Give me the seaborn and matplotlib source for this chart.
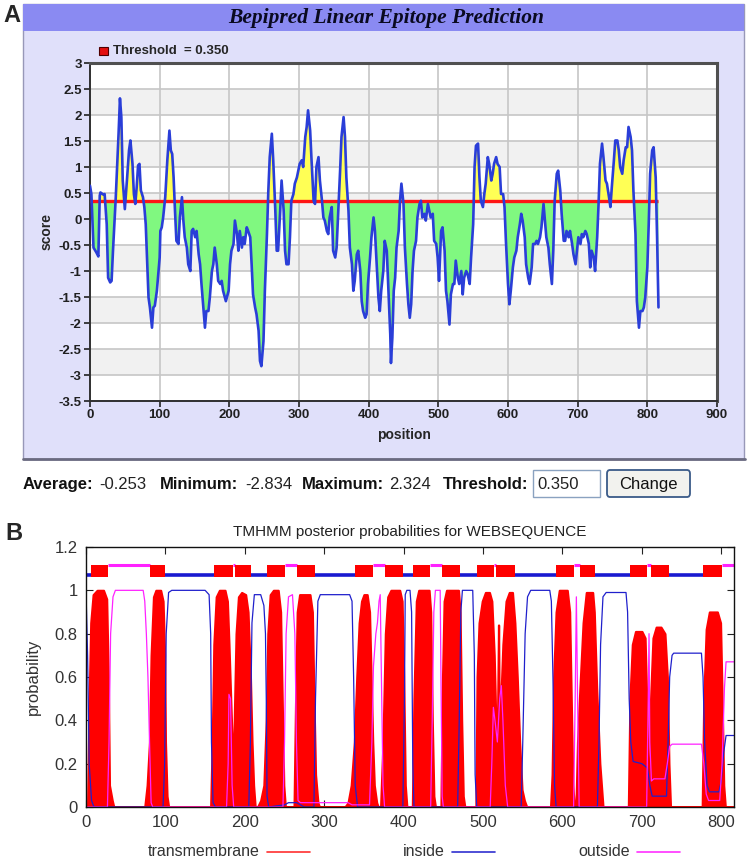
import numpy as np
import seaborn as sns
import matplotlib.pyplot as plt
from matplotlib.patches import Rectangle, FancyBboxPatch
from matplotlib.lines import Line2D

# ---- panel A: Bepipred linear epitope prediction ----
bp_pos = [0, 2, 5, 9, 12, 14, 15, 19, 21, 24,
          26, 29, 31, 33, 37, 41, 43, 45, 47, 50,
          53, 56, 58, 61, 63, 65, 67, 69, 71, 73,
          76, 78, 80, 84, 86, 89, 91, 93, 96, 100,
          101, 103, 105, 108, 111, 114, 116, 118, 120, 122,
          124, 127, 129, 132, 134, 136, 139, 141, 144, 146,
          148, 151, 153, 156, 158, 160, 163, 165, 167, 170,
          172, 175, 177, 179, 182, 184, 187, 189, 191, 195,
          199, 201, 203, 206, 208, 211, 213, 215, 218, 220,
          222, 225, 227, 230, 232, 234, 237, 239, 242, 244,
          246, 249, 251, 254, 256, 258, 261, 263, 266, 268,
          270, 273, 275, 278, 280, 282, 285, 287, 289, 292,
          294, 297, 299, 301, 304, 306, 309, 311, 313, 316,
          318, 321, 323, 325, 328, 330, 333, 335, 337, 340,
          342, 344, 347, 349, 352, 354, 356, 359, 361, 364,
          366, 368, 371, 373, 376, 378, 380, 383, 385, 388,
          390, 392, 395, 397, 399, 402, 404, 407, 409, 411,
          414, 416, 418, 421, 423, 426, 428, 431, 432, 434,
          436, 438, 440, 443, 445, 447, 450, 452, 455, 457,
          459, 461, 463, 465, 468, 470, 473, 475, 477, 480,
          482, 485, 487, 489, 492, 494, 497, 499, 501, 504,
          506, 509, 511, 513, 516, 518, 521, 523, 525, 528,
          530, 533, 535, 537, 540, 542, 545, 547, 550, 552,
          554, 557, 559, 561, 564, 566, 568, 571, 573, 576,
          578, 580, 583, 585, 588, 590, 593, 595, 597, 600,
          602, 604, 607, 609, 612, 614, 617, 619, 621, 624,
          626, 629, 631, 634, 636, 639, 641, 643, 646, 648,
          651, 653, 655, 658, 660, 663, 665, 667, 670, 672,
          675, 677, 680, 682, 684, 687, 689, 692, 694, 697,
          699, 701, 704, 706, 708, 711, 713, 716, 718, 720,
          723, 725, 728, 730, 732, 735, 737, 740, 742, 745,
          747, 749, 752, 754, 757, 759, 761, 764, 766, 769,
          771, 773, 776, 778, 780, 783, 785, 788, 790, 793,
          795, 797, 800, 802, 804, 807, 809, 812, 814, 816]
bp_score = [0.64, 0.48, -0.55, -0.64, -0.72, 0.45, 0.51, 0.47, 0.48, -0.10,
            -1.13, -1.22, -1.19, -0.61, 0.42, 1.64, 2.32, 1.96, 0.74, 0.19,
            0.74, 1.32, 1.51, 1.06, 0.48, 0.29, 0.61, 1.03, 1.06, 0.55,
            0.42, 0.23, -0.10, -1.51, -1.70, -2.09, -1.70, -1.67, -1.38, -0.74,
            -0.23, -0.16, 0.03, 0.42, 1.13, 1.70, 1.32, 1.25, 0.80, 0.16,
            -0.42, -0.48, 0.03, 0.42, -0.03, -0.35, -0.55, -0.87, -1.00, -0.23,
            -0.19, -0.35, -0.23, -0.68, -0.87, -1.25, -1.77, -2.09, -1.77, -1.77,
            -1.51, -1.00, -0.87, -0.55, -0.87, -1.19, -1.25, -1.19, -1.38, -1.58,
            -1.38, -0.87, -0.61, -0.48, -0.03, -0.29, -0.61, -0.23, -0.55, -0.35,
            -0.48, -0.16, -0.23, -0.35, -0.87, -1.45, -1.70, -1.83, -2.15, -2.73,
            -2.83, -2.35, -1.38, -0.29, 0.55, 1.19, 1.64, 1.13, 0.16, -0.61,
            -0.61, 0.16, 0.74, 0.16, -0.61, -0.87, -0.87, -0.35, 0.35, 0.48,
            0.68, 0.80, 0.93, 1.06, 1.13, 1.00, 1.58, 1.77, 2.09, 1.70,
            1.13, 0.35, 0.29, 1.00, 1.19, 0.74, 0.35, 0.03, -0.03, -0.23,
            -0.29, 0.03, 0.23, -0.61, -0.74, -0.55, 0.03, 0.93, 1.58, 1.96,
            1.58, 0.80, 0.16, -0.55, -0.87, -1.38, -1.19, -0.68, -0.61, -1.00,
            -1.58, -1.77, -1.90, -1.83, -1.25, -0.74, -0.35, 0.03, -0.23, -0.74,
            -1.51, -1.77, -1.38, -1.00, -0.42, -0.61, -1.25, -2.22, -2.77, -2.28,
            -1.38, -1.13, -0.55, -0.23, 0.35, 0.68, 0.29, -0.55, -1.25, -1.64,
            -1.90, -1.64, -1.00, -0.61, -0.42, 0.03, 0.29, 0.35, 0.03, 0.10,
            -0.03, 0.29, 0.16, 0.03, 0.10, -0.42, -0.48, -0.74, -1.19, -0.23,
            -0.16, -0.61, -1.38, -1.58, -2.03, -1.45, -1.25, -1.25, -0.80, -1.13,
            -1.25, -1.00, -1.45, -1.13, -1.00, -1.06, -1.25, -0.74, -0.10, 1.00,
            1.41, 1.45, 0.80, 0.35, 0.23, 0.48, 0.68, 1.19, 1.06, 0.74,
            0.87, 1.06, 1.19, 1.06, 1.00, 0.48, 0.48, 0.23, -0.42, -1.25,
            -1.64, -1.38, -0.93, -0.74, -0.61, -0.35, -0.10, 0.10, -0.03, -0.35,
            -0.87, -1.13, -1.25, -0.93, -0.48, -0.48, -0.42, -0.48, -0.35, -0.16,
            0.29, -0.03, -0.35, -0.55, -0.87, -1.25, -0.61, 0.35, 0.87, 0.93,
            0.55, 0.10, -0.42, -0.42, -0.23, -0.35, -0.23, -0.48, -0.68, -0.87,
            -0.61, -0.35, -0.48, -0.29, -0.35, -0.23, -0.29, -0.48, -0.93, -0.61,
            -0.74, -1.00, -0.35, 0.29, 1.06, 1.45, 1.19, 0.74, 0.68, 0.42,
            0.23, 0.61, 1.13, 1.51, 1.51, 1.32, 1.00, 0.87, 1.13, 1.38,
            1.38, 1.77, 1.58, 1.32, 0.55, -0.29, -1.58, -2.09, -1.77, -1.77,
            -1.70, -1.51, -0.93, -0.10, 0.87, 1.32, 1.38, 0.80, -0.35, -1.70]
threshold = 0.350
stat_names = ["Average:", "Minimum:", "Maximum:"]
stat_values = ["-0.253", "-2.834", "2.324"]

# ---- panel B: TMHMM posterior probabilities ----
tm_pos = [0, 2, 4, 6, 9, 14, 22, 26, 28, 29.5, 33, 35,
          74, 77, 80, 82, 85, 88, 94, 97, 99, 100, 102, 104,
          157, 159, 161, 164, 168, 175, 178, 180, 182, 184,
          185.5, 187, 189, 192, 196, 201, 204, 207, 209, 211, 213,
          216, 220, 224, 227, 229, 232, 236, 242, 245, 247, 249, 251,
          262, 264, 266, 269, 282, 285, 287, 289, 292, 294,
          326, 330, 334, 338, 341, 344, 347, 350, 354, 357, 359, 361, 363, 366, 368,
          371, 374, 377, 380, 384, 395, 398, 400, 402, 404,
          411, 413, 416, 419, 432, 434, 436, 438, 440,
          447, 449, 451, 454, 469, 471, 473, 475, 477,
          491, 492.5, 495, 499, 503, 508, 511, 514, 516, 518,
          519.5, 520.5, 522, 525, 529, 533, 537, 540, 543, 546, 549, 552, 555,
          585, 587, 589, 592, 596, 606, 609, 611, 613, 615,
          617, 619, 622, 626, 630, 638, 640, 643, 647, 651,
          683, 685, 688, 692, 700, 704, 706, 708, 709.5,
          711, 714, 718, 724, 729, 732, 734, 736,
          776, 778, 781, 785, 795, 799, 801, 803, 805, 816]
tm_prob = [0, 0, 0.5, 0.85, 0.98, 1.0, 1.0, 0.96, 0.6, 0.1, 0.03, 0,
           0, 0.1, 0.3, 0.7, 0.97, 1.0, 1.0, 0.95, 0.7, 0.3, 0.05, 0,
           0, 0.3, 0.75, 0.97, 1.0, 1.0, 0.95, 0.75, 0.52, 0.3,
           0.15, 0.45, 0.8, 0.97, 0.99, 0.98, 0.9, 0.6, 0.3, 0.1, 0,
           0, 0.03, 0.1, 0.4, 0.8, 0.98, 1.0, 1.0, 0.9, 0.5, 0.1, 0,
           0, 0.5, 0.9, 0.98, 0.98, 0.9, 0.5, 0.15, 0.02, 0,
           0, 0.02, 0.1, 0.3, 0.6, 0.85, 0.95, 0.98, 0.98, 0.9, 0.6, 0.3, 0.1, 0.02, 0,
           0, 0.3, 0.8, 0.97, 1.0, 1.0, 0.95, 0.6, 0.1, 0,
           0, 0.5, 0.95, 1.0, 1.0, 0.9, 0.4, 0.05, 0,
           0, 0.6, 0.95, 1.0, 1.0, 0.9, 0.4, 0.05, 0,
           0, 0.6, 0.85, 0.95, 0.99, 0.99, 0.95, 0.7, 0.4, 0.3,
           0.84, 0.3, 0.45, 0.75, 0.95, 0.99, 0.99, 0.85, 0.6, 0.3, 0.08, 0.03, 0,
           0, 0.15, 0.6, 0.9, 1.0, 1.0, 0.9, 0.5, 0.1, 0,
           0, 0.3, 0.55, 0.85, 0.99, 0.99, 0.9, 0.55, 0.2, 0,
           0, 0.5, 0.75, 0.81, 0.81, 0.78, 0.5, 0.1, 0.02,
           0.5, 0.78, 0.83, 0.83, 0.8, 0.6, 0.2, 0,
           0, 0.5, 0.82, 0.9, 0.9, 0.85, 0.5, 0.1, 0, 0]

ins_pos = [0, 2, 4, 7, 10, 97, 99, 101, 104, 108, 150, 155, 157, 158, 160, 163,
           205, 207, 209, 212, 220, 224, 226, 227, 228, 230, 250, 255, 265, 270, 275,
           287, 289, 292, 295, 332, 335, 337, 339, 342,
           399, 401, 402, 404, 408, 410, 411.5, 413,
           468, 470, 472, 474, 487, 489, 490, 492,
           548, 550, 553, 556, 560, 584, 586, 588, 590, 592,
           644, 646, 648, 651, 655, 680, 682, 684, 686, 689, 700, 707, 710, 713, 731,
           733, 735, 738, 740, 775, 777, 779, 782, 785, 797, 800, 803, 806, 816]
ins_prob = [1.0, 0.7, 0.2, 0.03, 0, 0, 0.2, 0.8, 0.99, 1.0, 1.0, 0.98, 0.8, 0.3, 0.02, 0,
            0, 0.3, 0.85, 0.98, 0.98, 0.93, 0.8, 0.5, 0.05, 0, 0.01, 0.02, 0.02, 0.01, 0,
            0, 0.5, 0.95, 0.98, 0.98, 0.95, 0.6, 0.1, 0,
            0, 0.5, 0.98, 1.0, 1.0, 0.9, 0.2, 0,
            0, 0.4, 0.9, 1.0, 1.0, 0.7, 0.15, 0,
            0, 0.3, 0.8, 0.97, 1.0, 1.0, 0.95, 0.6, 0.1, 0,
            0, 0.3, 0.75, 0.97, 0.99, 0.99, 0.9, 0.5, 0.3, 0.21, 0.2, 0.18, 0.1, 0.05, 0.05,
            0.3, 0.6, 0.7, 0.71, 0.71, 0.6, 0.3, 0.1, 0.07, 0.07, 0.12, 0.25, 0.33, 0.33]

out_pos = [0, 27, 29, 31, 34, 37, 72, 74, 76, 78, 80, 82, 84,
           177, 179, 180, 182, 184, 186,
           248, 250, 252, 255, 260, 263, 265, 267, 270, 330, 335, 357,
           360, 362, 365, 367, 369, 370.5, 372, 374, 376,
           434, 436, 438, 440, 446, 447, 448.5, 450,
           509, 511, 513, 515, 518, 521, 523, 525, 528, 531,
           614, 616, 617.5, 619, 621,
           706, 708, 709, 710, 712, 715, 729, 732, 735, 738, 775, 778, 781, 784, 798, 801, 804, 806, 816]
out_prob = [0, 0, 0.3, 0.8, 0.97, 1.0, 1.0, 0.95, 0.8, 0.6, 0.3, 0.02, 0,
            0, 0.2, 0.52, 0.5, 0.1, 0,
            0, 0.3, 0.8, 0.97, 0.98, 0.8, 0.3, 0.03, 0.02, 0.02, 0.01, 0.01,
            0.3, 0.65, 0.8, 0.85, 0.95, 0.98, 0.6, 0.1, 0,
            0, 0.4, 0.9, 1.0, 1.0, 0.6, 0.05, 0,
            0, 0.2, 0.46, 0.4, 0.3, 0.5, 0.56, 0.4, 0.1, 0,
            0, 0.5, 0.97, 0.5, 0,
            0, 0.5, 0.8, 0.3, 0.12, 0.13, 0.13, 0.2, 0.28, 0.29, 0.29, 0.2, 0.06, 0.03, 0.03, 0.2, 0.55, 0.67, 0.67]

# predicted topology (bar on top)
helix_start = [6, 81, 161, 187, 228, 266, 339, 376, 412, 448, 492, 516.5, 592, 622, 685, 711, 777]
helix_end = [28, 99, 185, 208, 250, 288, 361, 399, 433.5, 471, 514, 540, 614, 641, 707, 734, 801.5]
inside_start = [0, 99, 208, 288, 399, 471, 540, 641, 734]
inside_end = [6, 161, 228, 339, 412, 492, 592, 685, 777]
outside_start = [28, 185, 250, 361, 433.5, 514, 614, 707, 801.5]
outside_end = [81, 187, 266, 376, 448, 516.5, 622, 711, 816]
seq_len = 816

sns.set_theme(style="white")
plt.rcParams['font.family'] = ['Liberation Sans', 'DejaVu Sans']
plt.rcParams['axes.unicode_minus'] = False

W, H = 750, 861
fig = plt.figure(figsize=(7.5, 8.61), dpi=100)


def fbox(x0, y0, x1, y1):
    # pixel box (top-left origin) -> figure fraction [left, bottom, w, h]
    return [x0 / W, 1 - y1 / H, (x1 - x0) / W, (y1 - y0) / H]


def ftxt(x, y, s, **kw):
    fig.text(x / W, 1 - y / H, s, **kw)


# panel A frame
l, b, w, h = fbox(23, 4, 744, 459)
fig.add_artist(Rectangle((l, b), w, h, transform=fig.transFigure,
                         facecolor='#e0e0fa', edgecolor='#9898b8', lw=1, zorder=0))
l, b, w, h = fbox(23, 4, 744, 31)
fig.add_artist(Rectangle((l, b), w, h, transform=fig.transFigure,
                         facecolor='#8a8af2', edgecolor='none', zorder=0.5))
fig.add_artist(Line2D([23 / W, 745 / W], [1 - 459 / H] * 2, transform=fig.transFigure,
                      color='#6a6a80', lw=2))

ftxt(3, 15, "A", fontsize=17, fontweight='bold', va='center')
ftxt(386, 18, "Bepipred Linear Epitope Prediction", family=['Liberation Serif', 'DejaVu Serif'],
     style='italic', fontweight='bold', fontsize=15.5, color='#0a0a20', ha='center', va='center')

l, b, w, h = fbox(99, 47, 108, 55)
fig.add_artist(Rectangle((l, b), w, h, transform=fig.transFigure,
                         facecolor='#e41010', edgecolor='#500000', lw=0.8))
ftxt(113, 51, "Threshold  = %.3f" % threshold, fontsize=9.5, fontweight='bold', va='center')

axA = fig.add_axes(fbox(90, 63, 717, 401))
axA.set_facecolor('white')
for lo in [2, 1, 0, -1, -2, -3]:
    axA.axhspan(lo, lo + 0.5, color='#f1f1f1', zorder=0, lw=0)
axA.set_axisbelow(True)
axA.grid(True, color='#c6c6c6', lw=1.2)

x = np.array(bp_pos, dtype=float)
y = np.array(bp_score)
axA.fill_between(x, y, threshold, where=y >= threshold, interpolate=True,
                 color='#ffff55', lw=0, zorder=2)
axA.fill_between(x, y, threshold, where=y <= threshold, interpolate=True,
                 color='#80f880', lw=0, zorder=2)
axA.hlines(threshold, x[0], x[-1], color='#ff1515', lw=2.4, zorder=3)
sns.lineplot(x=bp_pos, y=bp_score, ax=axA, color='#2a3ed8', lw=1.9, zorder=4, estimator=None)

axA.set_xlim(0, 900)
axA.set_ylim(-3.5, 3)
axA.set_xticks(range(0, 901, 100))
yt = np.arange(-3.5, 3.01, 0.5)
axA.set_yticks(yt)
axA.set_yticklabels(['%g' % v for v in yt])
axA.tick_params(direction='out', length=4, width=1.2, colors='#202020', labelsize=9.5, pad=2,
                left=True, bottom=True)
for lbl in axA.get_xticklabels() + axA.get_yticklabels():
    lbl.set_fontweight('bold')
axA.set_xlabel("position", fontsize=10, fontweight='bold', labelpad=5)
axA.set_ylabel("score", fontsize=10, fontweight='bold', labelpad=4)
for s in ['left', 'bottom']:
    axA.spines[s].set_color('#303030')
    axA.spines[s].set_linewidth(1.4)
for s in ['top', 'right']:
    axA.spines[s].set_color('#505050')
    axA.spines[s].set_linewidth(2.2)

# stats row
stat_x = [(23, 99), (160, 245), (302, 389)]
for (xn, xv), name, val in zip(stat_x, stat_names, stat_values):
    ftxt(xn, 484, name, fontsize=12, fontweight='bold', va='center', color='#111111')
    ftxt(xv, 484, val, fontsize=12, va='center', color='#222222')
ftxt(443, 484, "Threshold:", fontsize=12, fontweight='bold', va='center', color='#111111')
l, b, w, h = fbox(533, 470, 600, 497)
fig.add_artist(Rectangle((l, b), w, h, transform=fig.transFigure,
                         facecolor='white', edgecolor='#8aa2c0', lw=1))
ftxt(537, 484, "%.3f" % threshold, fontsize=12, va='center', color='#222222')
l, b, w, h = fbox(607, 470, 690, 497)
fig.add_artist(FancyBboxPatch((l, b), w, h, boxstyle="round,pad=0,rounding_size=0.004",
                              transform=fig.transFigure, facecolor='#f2f2ee',
                              edgecolor='#3a5a88', lw=1.3))
ftxt(648, 484, "Change", fontsize=12, va='center', ha='center', color='#111111')

# panel B
ftxt(5, 534, "B", fontsize=17, fontweight='bold', va='center')
axB = fig.add_axes(fbox(86, 547, 734, 807))
axB.set_facecolor('white')
axB.fill_between(tm_pos, tm_prob, 0, facecolor='#ff0000', edgecolor='#ff0000', lw=1.6, zorder=2)
sns.lineplot(x=ins_pos, y=ins_prob, ax=axB, color='#2020cc', lw=0.9, zorder=3, estimator=None)
sns.lineplot(x=out_pos, y=out_prob, ax=axB, color='#ff22ff', lw=0.9, zorder=3, estimator=None)

axB.hlines([1.07] * len(inside_start), inside_start, inside_end, color='#1a1ad0', lw=2.6, zorder=3)
axB.hlines([1.117] * len(outside_start), outside_start, outside_end, color='#ff22ff', lw=2.2, zorder=3)
axB.broken_barh([(s, e - s) for s, e in zip(helix_start, helix_end)], (1.06, 0.055),
                facecolor='#ff0000', edgecolor='none', zorder=4)

axB.set_xlim(0, seq_len)
axB.set_ylim(0, 1.2)
axB.set_xticks(range(0, 801, 100))
ybt = np.arange(0, 1.21, 0.2)
axB.set_yticks(ybt)
axB.set_yticklabels(['%g' % round(v, 1) for v in ybt])
axB.tick_params(direction='in', length=5, width=0.8, top=True, right=True, left=True, bottom=True,
                labelsize=12, labelcolor='#333333', color='#222222', pad=6)
for s in axB.spines.values():
    s.set_color('#111111')
    s.set_linewidth(1.0)
    s.set_zorder(5)
axB.set_ylabel("probability", fontsize=12, color='#333333', labelpad=10)
ftxt(410, 532, "TMHMM posterior probabilities for WEBSEQUENCE", fontsize=11, color='#222222',
     ha='center', va='center')

legend_items = [("transmembrane", 148, 267, 310, '#ff3030'),
                ("inside", 403, 452, 495, '#3030d0'),
                ("outside", 578, 637, 680, '#ff30ff')]
for name, xt, x0, x1, col in legend_items:
    ftxt(xt, 852, name, fontsize=11.5, color='#333333', va='center')
    fig.add_artist(Line2D([x0 / W, x1 / W], [1 - 852 / H] * 2, transform=fig.transFigure,
                          color=col, lw=1.2))

fig.savefig("out.png", dpi=100)
